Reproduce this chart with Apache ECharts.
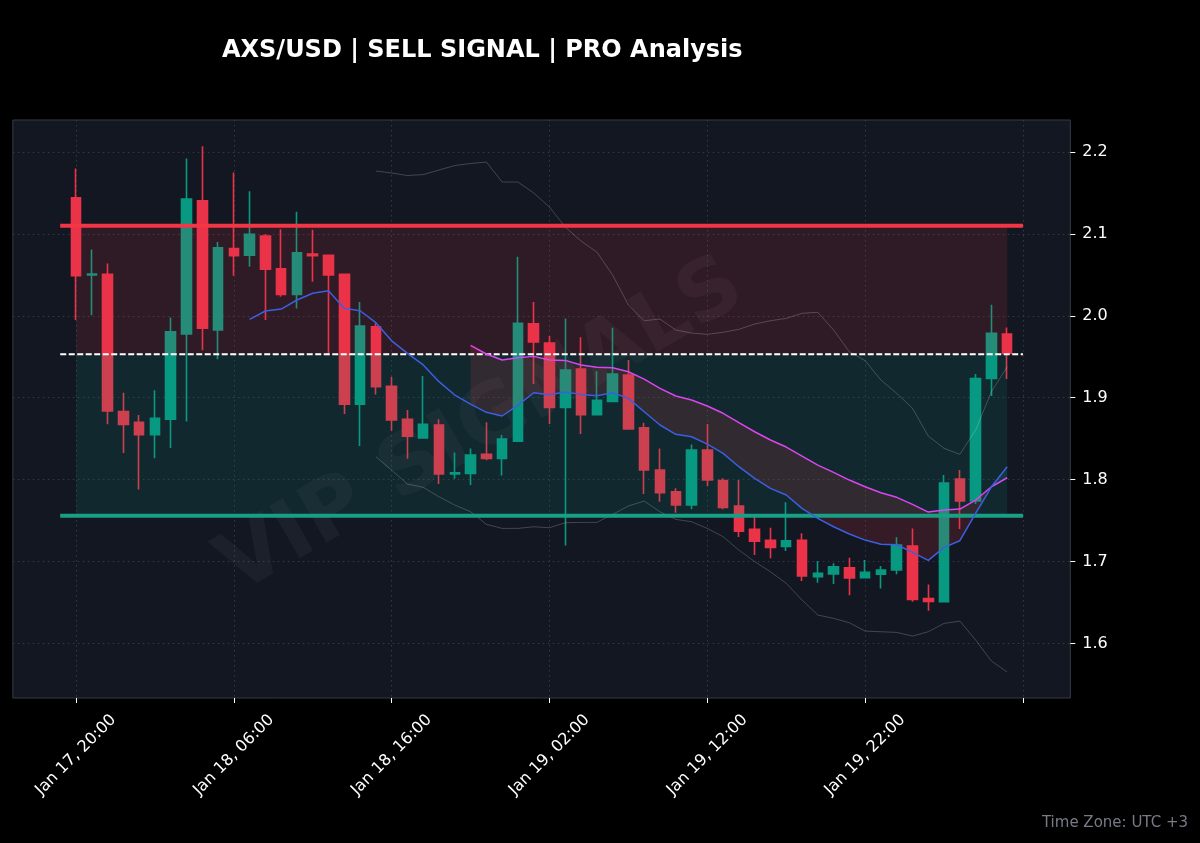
<!DOCTYPE html>
<html><head><meta charset="utf-8">
<style>html,body{margin:0;padding:0;background:#000}#c{width:1200px;height:843px}</style>
<script src="https://cdn.jsdelivr.net/npm/echarts@6/dist/echarts.min.js"></script>
</head><body><div id="c"></div>
<script>
const titleText = 'AXS/USD | SELL SIGNAL | PRO Analysis';
const watermarkText = 'VIP SIGNALS';
const timeZoneText = 'Time Zone: UTC +3';
const yTicks = [1.6,1.7,1.8,1.9,2.0,2.1,2.2];
const resistance = 2.11, entry = 1.953, support = 1.756;
const months = 'Jan';
const open = [2.1442,2.050,2.0507,1.883,1.870,1.855,1.8737,1.978,2.1405,1.9827,2.082,2.074,2.0975,2.0575,2.026,2.0755,2.074,2.0507,1.892,1.9867,
 1.914,1.8737,1.851,1.8667,1.807,1.8077,1.831,1.826,1.847,1.9903,1.9668,1.888,1.935,1.8792,1.8955,1.9277,1.8633,1.8117,1.7852,1.769,
 1.836,1.799,1.7678,1.7393,1.726,1.7185,1.726,1.6815,1.685,1.6925,1.6803,1.6844,1.6896,1.7189,1.6547,1.651,1.8007,1.7739,1.9235,1.9777];
const close = [2.049,2.051,1.884,1.8675,1.855,1.875,1.9806,2.1426,1.985,2.083,2.0734,2.0995,2.057,2.026,2.077,2.0735,2.05,1.892,1.9875,1.9135,
 1.873,1.853,1.8676,1.807,1.8085,1.83,1.826,1.8495,1.991,1.968,1.888,1.9337,1.8792,1.897,1.929,1.8618,1.8117,1.784,1.769,1.836,
 1.7995,1.766,1.737,1.7247,1.7172,1.7253,1.6823,1.6856,1.6936,1.680,1.6868,1.6896,1.72,1.6538,1.6513,1.7958,1.7739,1.9235,1.9786,1.9542];
const low = [1.995,2.0006,1.8675,1.8325,1.788,1.826,1.8386,1.871,1.958,1.947,2.049,2.06,1.995,2.0233,2.009,2.0416,1.952,1.88,1.841,1.904,
 1.8597,1.8256,1.851,1.7946,1.801,1.7934,1.8236,1.805,1.847,1.9167,1.868,1.7197,1.8557,1.879,1.895,1.8618,1.7824,1.773,1.7596,1.7637,
 1.792,1.7637,1.730,1.708,1.704,1.7128,1.6762,1.674,1.6725,1.6587,1.68,1.6672,1.6844,1.651,1.64,1.651,1.7397,1.7702,1.902,1.9229];
const high = [2.180,2.081,2.064,1.906,1.879,1.909,1.998,2.192,2.207,2.09,2.175,2.152,2.1,2.1056,2.127,2.105,2.074,2.0507,2.017,1.991,
 1.9255,1.885,1.9265,1.8737,1.833,1.838,1.87,1.8545,2.072,2.017,1.9753,1.9968,1.9737,1.9322,1.9855,1.946,1.8695,1.838,1.7894,1.843,
 1.868,1.8016,1.7995,1.7547,1.7413,1.7723,1.7344,1.7006,1.6978,1.7047,1.7018,1.6945,1.7296,1.7405,1.672,1.8056,1.8117,1.929,2.0135,1.9859];
const fast = [null,null,null,null,null,null,null,null,null,null,null,1.9957,2.0059,2.0083,2.0193,2.0275,2.0306,2.0091,2.0062,1.9916,
 1.9695,1.9542,1.94,1.9196,1.9033,1.8923,1.8822,1.8777,1.891,1.9061,1.9037,1.907,1.9041,1.9025,1.9061,1.8992,1.8829,1.8667,1.8553,1.8524,
 1.8434,1.8321,1.8158,1.8016,1.7894,1.7812,1.765,1.7528,1.7425,1.7336,1.7262,1.721,1.7205,1.7112,1.7015,1.7173,1.7254,1.7589,1.7913,1.8158];
const slow = [null,null,null,null,null,null,null,null,null,null,null,null,null,null,null,null,null,null,null,null,
 null,null,null,null,null,1.964,1.9534,1.946,1.9488,1.9505,1.946,1.9456,1.94,1.9371,1.9366,1.9317,1.9228,1.9115,1.9021,1.8972,
 1.8899,1.881,1.8695,1.8585,1.8484,1.8398,1.8288,1.8178,1.8089,1.7995,1.7913,1.784,1.7784,1.7698,1.7604,1.7629,1.7641,1.7751,1.7913,1.8023];
const bandUpper = [null,null,null,null,null,null,null,null,null,null,null,null,null,null,null,null,null,null,null,2.1768,
 2.1744,2.1713,2.1725,2.178,2.1835,2.186,2.1878,2.1634,2.1634,2.15,2.1328,2.1084,2.0913,2.0779,2.0498,2.0132,1.994,1.9961,1.9827,1.979,
 1.9774,1.9799,1.9835,1.99,1.994,1.9969,2.0031,2.0043,1.9827,1.9562,1.9452,1.9216,1.9054,1.8871,1.8532,1.8382,1.8309,1.8606,1.9073,1.9378];
const bandLower = [null,null,null,null,null,null,null,null,null,null,null,null,null,null,null,null,null,null,null,1.828,
 1.8117,1.7946,1.7906,1.7791,1.769,1.7608,1.7454,1.7405,1.7405,1.7425,1.7413,1.7474,1.7478,1.7478,1.7576,1.7678,1.7739,1.7608,1.7515,1.7486,
 1.7405,1.7303,1.714,1.7,1.6875,1.6734,1.653,1.6347,1.6306,1.6253,1.6151,1.6143,1.6135,1.609,1.6143,1.6245,1.6273,1.6042,1.5785,1.5651];

const RED='#ea3349', GREEN='#089981';
const LEAD=4, TOTAL=68, COUNT=open.length;
// hourly categories: Jan 17 20:00 is data index 0
const categories=[];
for(let p=0;p<TOTAL;p++){
  const i=p-LEAD;
  if(i<0){categories.push('');continue;}
  const h=20+i, day=17+Math.floor(h/24), hh=String(h%24).padStart(2,'0');
  categories.push(months+' '+day+', '+hh+':00');
}
const pad=a=>{const r=new Array(TOTAL).fill(null);a.forEach((v,i)=>{r[i+LEAD]=v==null?null:v});return r;};
const candles=new Array(TOTAL).fill(null).map(()=>['-','-','-','-']);
for(let i=0;i<COUNT;i++)candles[i+LEAD]=[open[i],close[i],low[i],high[i]];
const levelLine=v=>{const r=new Array(TOTAL).fill(null);for(let p=LEAD-1;p<=LEAD+60;p++)r[p]=v;return r;};
const ribBase=[],ribBear=[],bullBase=[],bullBand=[];
for(let p=0;p<TOTAL;p++){
  const i=p-LEAD,f=fast[i],s=slow[i];
  const ok=f!=null&&s!=null;
  ribBase.push(ok&&s>=f?f:null);
  ribBear.push(ok&&s>=f?+(s-f).toFixed(4):null);
  bullBase.push(ok&&f>=s?s:null);
  bullBand.push(ok&&f>=s?+(f-s).toFixed(4):null);
}
const tickOn=(idx)=>{const i=idx-LEAD;return i>=0&&i<=60&&i%10===0;};
const gridLine={color:'#343944',type:[1.5,3.5],width:1};
const lineCommon={type:'line',symbol:'none',silent:true,animation:false,smooth:false};
const chart=echarts.init(document.getElementById('c'),null,{renderer:'canvas',width:1200,height:843});
chart.setOption({
  animation:false,
  backgroundColor:'#000000',
  textStyle:{fontFamily:'DejaVu Sans'},
  title:[
    {text:titleText,left:217,top:34,textStyle:{color:'#ffffff',fontSize:24,fontWeight:'bold',fontFamily:'DejaVu Sans'}},
    {text:timeZoneText,right:7,top:811,textStyle:{color:'#787b86',fontSize:15,fontWeight:'normal',fontFamily:'DejaVu Sans'}}
  ],
  graphic:[{type:'text',z:1,x:482,y:428,rotation:Math.PI/6,
    style:{text:watermarkText,fill:'rgba(255,255,255,0.04)',font:'bold 83px "DejaVu Sans"',textAlign:'center',textVerticalAlign:'middle'}}],
  grid:{show:true,left:12.87,top:120,width:1057.46,height:578,backgroundColor:'#131722',borderColor:'#363a45',borderWidth:1,containLabel:false,z:0},
  xAxis:{type:'category',data:categories,boundaryGap:false,
    axisLine:{show:false},
    axisTick:{show:true,length:5,lineStyle:{color:'#ffffff',width:1},interval:(i)=>tickOn(i),alignWithLabel:true},
    axisLabel:{color:'#ffffff',fontSize:16,rotate:45,align:'center',verticalAlign:'middle',margin:57,interval:(i)=>tickOn(i)&&i-LEAD<60,formatter:v=>v,hideOverlap:false},
    splitLine:{show:true,interval:(i)=>tickOn(i),lineStyle:gridLine}},
  yAxis:{type:'value',position:'right',min:1.5334,max:2.2391,scale:true,
    axisLine:{show:false},
    axisTick:{show:true,length:5,lineStyle:{color:'#ffffff',width:1},customValues:yTicks},
    axisLabel:{color:'#ffffff',fontSize:16,margin:12,padding:[4,0,0,0],customValues:yTicks,formatter:v=>v.toFixed(1)},
    splitLine:{show:true,lineStyle:gridLine}},
  series:[
    {type:'candlestick',name:'price',data:candles,barWidth:10,z:3,silent:true,animation:false,clip:true,
      itemStyle:{color:GREEN,color0:RED,borderColor:GREEN,borderColor0:RED,borderColorDoji:RED,borderWidth:1.6}},
    {...lineCommon,name:'zones',data:new Array(TOTAL).fill(null),z:4,
      markArea:{silent:true,z:4,animation:false,data:[
        [{xAxis:categories[LEAD],yAxis:resistance,itemStyle:{color:'rgba(242,54,69,0.13)'}},{xAxis:categories[LEAD+COUNT-1],yAxis:entry}],
        [{xAxis:categories[LEAD],yAxis:entry,itemStyle:{color:'rgba(8,153,129,0.13)'}},{xAxis:categories[LEAD+COUNT-1],yAxis:support}]
      ]}},
    {...lineCommon,name:'ribBase',data:ribBase,stack:'rib',lineStyle:{width:0},z:5},
    {...lineCommon,name:'ribBear',data:ribBear,stack:'rib',lineStyle:{width:0},areaStyle:{color:'rgba(242,54,69,0.15)',opacity:1},z:5},
    {...lineCommon,name:'bullBase',data:bullBase,stack:'bull',lineStyle:{width:0},z:5},
    {...lineCommon,name:'bullBand',data:bullBand,stack:'bull',lineStyle:{width:0},areaStyle:{color:'rgba(8,153,129,0.15)',opacity:1},z:5},
    {...lineCommon,name:'upper',data:pad(bandUpper),lineStyle:{color:'rgba(255,255,255,0.2)',width:1},z:6},
    {...lineCommon,name:'lower',data:pad(bandLower),lineStyle:{color:'rgba(255,255,255,0.2)',width:1},z:6},
    {...lineCommon,name:'resistance',data:levelLine(resistance),lineStyle:{color:'#f23645',width:4,cap:'butt'},z:7},
    {...lineCommon,name:'support',data:levelLine(support),lineStyle:{color:'#1a9f87',width:4,cap:'butt'},z:7},
    {...lineCommon,name:'entry',data:levelLine(entry),lineStyle:{color:'#ffffff',width:2,type:[6,2.5]},z:7},
    {...lineCommon,name:'slow',data:pad(slow),lineStyle:{color:'#d946ef',width:1.5},z:8},
    {...lineCommon,name:'fast',data:pad(fast),lineStyle:{color:'#3b5fe0',width:1.5},z:8}
  ]
});
</script></body></html>
